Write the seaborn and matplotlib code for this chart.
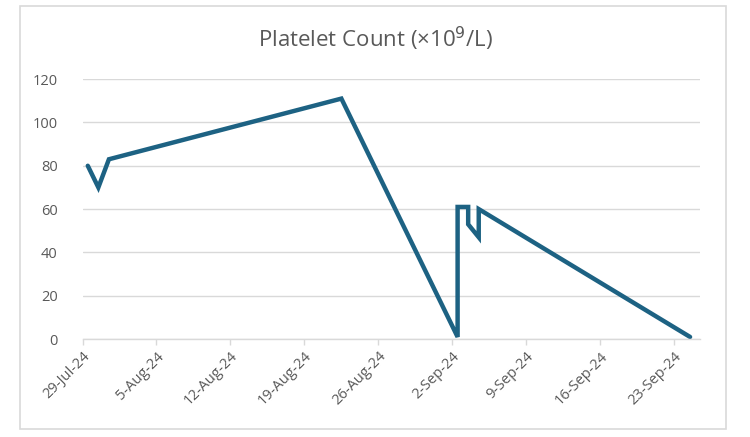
import matplotlib
matplotlib.use("Agg")
import matplotlib.pyplot as plt
from matplotlib.patches import Rectangle
import seaborn as sns
import pandas as pd

# Data
dates = ["2024-07-29", "2024-07-30", "2024-07-31", "2024-08-22", "2024-09-02",
         "2024-09-02", "2024-09-03", "2024-09-03", "2024-09-04", "2024-09-04",
         "2024-09-24"]
platelets = [80, 70, 83, 111, 1, 61, 61, 53, 47, 60, 1]
tick_dates = ["2024-07-29", "2024-08-05", "2024-08-12", "2024-08-19", "2024-08-26",
              "2024-09-02", "2024-09-09", "2024-09-16", "2024-09-23"]
tick_labels = ["29-Jul-24", "5-Aug-24", "12-Aug-24", "19-Aug-24", "26-Aug-24",
               "2-Sep-24", "9-Sep-24", "16-Sep-24", "23-Sep-24"]
y_ticks = [0, 20, 40, 60, 80, 100, 120]
title = "Platelet Count (×10$^{9}$/L)"

sns.set_theme(style="white")
plt.rcParams["font.family"] = ["Open Sans", "DejaVu Sans"]

df = pd.DataFrame({
    # points sit between tick marks (centred in their day), as in the original
    "date": pd.to_datetime(dates) + pd.Timedelta(hours=12),
    "value": platelets,
})

fig = plt.figure(figsize=(7.5, 4.37), dpi=100)
ax = fig.add_axes([0.110, 0.224, 0.823, 0.595])

sns.lineplot(data=df, x="date", y="value", sort=False, estimator=None,
             color="#1d6283", linewidth=3.2, ax=ax,
             solid_joinstyle="miter", solid_capstyle="round")

ax.set_xlim(pd.Timestamp("2024-07-29"), pd.Timestamp("2024-09-25") + pd.Timedelta(hours=10))
ax.set_ylim(0, 120)
ax.set_yticks(y_ticks)
ax.set_yticklabels([str(v) for v in y_ticks])
ax.set_xticks(pd.to_datetime(tick_dates))
ax.set_xticklabels(tick_labels, rotation=45, ha="right", rotation_mode="anchor")

ax.set_xlabel("")
ax.set_ylabel("")
ax.grid(axis="y", color="#d9d9d9", linewidth=1)
ax.set_axisbelow(True)
for s in ["top", "right", "left"]:
    ax.spines[s].set_visible(False)
ax.spines["bottom"].set_color("#d9d9d9")
ax.spines["bottom"].set_linewidth(1)
ax.tick_params(axis="x", which="major", bottom=True, length=4, width=1,
               color="#d9d9d9", labelsize=10.5, labelcolor="#595959", pad=3)
ax.tick_params(axis="y", left=False, labelsize=10.5, labelcolor="#595959", pad=12)

fig.text(0.500, 0.910, title, ha="center", va="center",
         fontsize=16, color="#595959")

fig.patches.append(Rectangle((0.0267, 0.018), 0.941, 0.968, transform=fig.transFigure,
                             fill=False, edgecolor="#d9d9d9", linewidth=1.2))

fig.savefig("out.png", dpi=100)
